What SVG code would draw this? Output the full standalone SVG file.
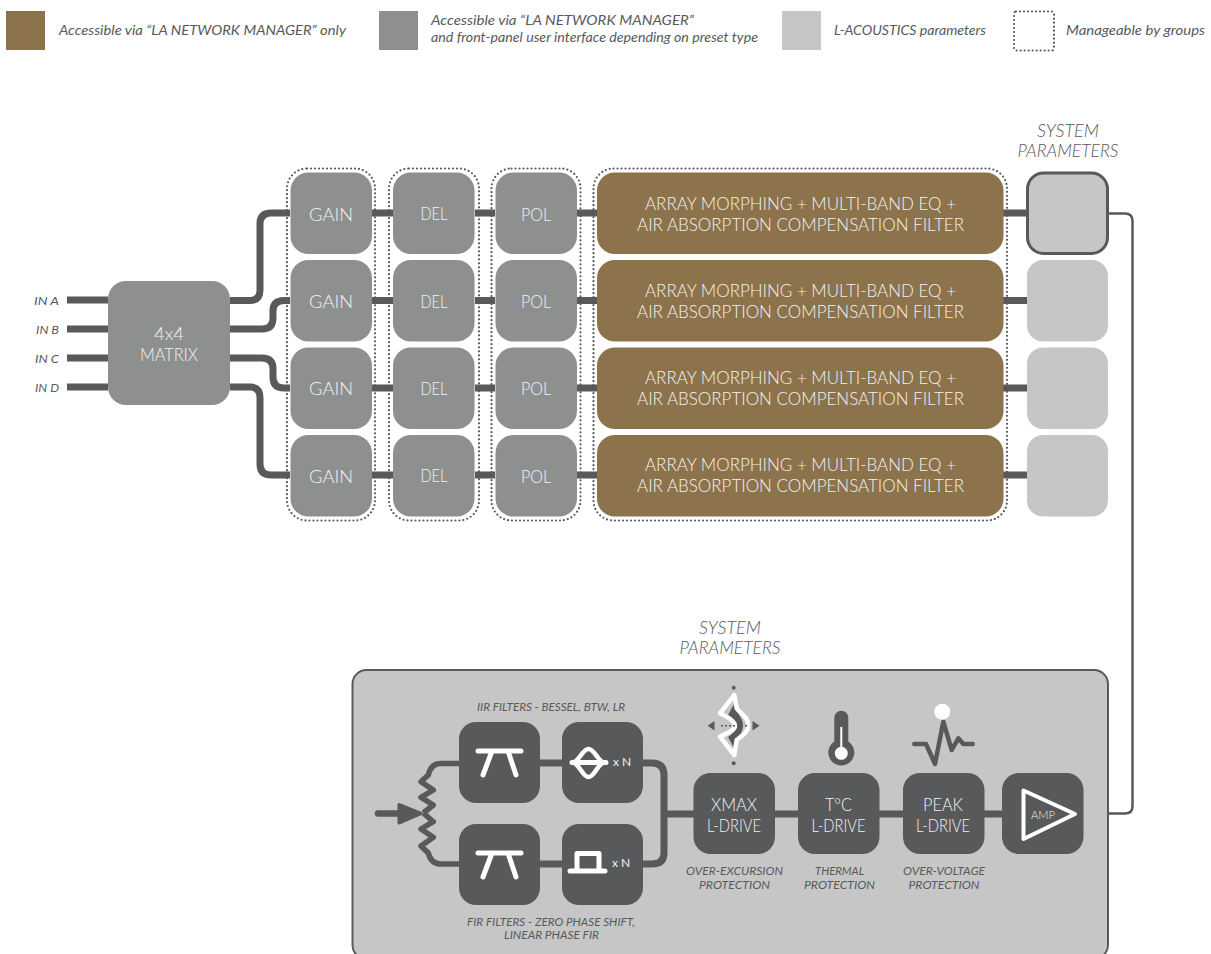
<svg xmlns="http://www.w3.org/2000/svg" width="1211" height="954" viewBox="0 0 1211 954">
<style>
text{font-family:"Lato","Liberation Sans",sans-serif;font-weight:300}
.w{fill:#f2f2f2;font-size:18px;text-anchor:middle}
.i{fill:#58595b;font-style:italic;font-weight:400}
.t{font-weight:300}
.c{text-anchor:middle}
.g{fill:#8e908f}
.b{fill:#8c734b}
.l{fill:#c6c6c6}
.d{fill:#58595b}
.dot{fill:none;stroke:#58595b;stroke-width:2.200;stroke-linecap:round;stroke-dasharray:0 4}
.con{fill:none;stroke:#58595b;stroke-width:7}
.ic{fill:none;stroke:#fff;stroke-width:5;stroke-linecap:round;stroke-linejoin:round}
.n{font-size:12px;font-weight:400;fill:#f2f2f2}
</style>
<rect width="1211" height="954" fill="#fff"/>
<g id="legend">
<rect class="b" x="6" y="11" width="39" height="39"/>
<text class="i" x="59" y="35" font-size="14" textLength="287" lengthAdjust="spacingAndGlyphs">Accessible via “LA NETWORK MANAGER” only</text>
<rect class="g" x="379" y="11" width="39" height="39"/>
<text class="i" x="431" y="25" font-size="14" textLength="263" lengthAdjust="spacingAndGlyphs">Accessible via “LA NETWORK MANAGER”</text>
<text class="i" x="431" y="42" font-size="14" textLength="327" lengthAdjust="spacingAndGlyphs">and front-panel user interface depending on preset type</text>
<rect class="l" x="782" y="11" width="39" height="39"/>
<text class="i" x="834" y="35" font-size="14" textLength="152" lengthAdjust="spacingAndGlyphs">L-ACOUSTICS parameters</text>
<rect class="dot" x="1014" y="11.500" width="40" height="39" rx="2"/>
<text class="i" x="1066" y="35" font-size="14" textLength="139" lengthAdjust="spacingAndGlyphs">Manageable by groups</text>
</g>
<g id="connectors">
<path class="con" d="M67 300H108M67 329H108M67 358H108M67 387H108"/>
<path class="con" d="M230 300.500H250Q260 300.500 260 290V224Q260 213 271 213H290"/>
<path class="con" d="M230 329H262Q273 329 273 318V311Q273 300.500 284 300.500H290"/>
<path class="con" d="M230 358H262Q273 358 273 369V377Q273 388 284 388H290"/>
<path class="con" d="M230 387H250Q260 387 260 398V464Q260 475 271 475H290"/>
<path class="con" d="M372 213H393M475 213H495M577 213H597M1003 213H1027M372 300.500H393M475 300.500H495M577 300.500H597M1003 300.500H1027M372 388H393M475 388H495M577 388H597M1003 388H1027M372 475H393M475 475H495M577 475H597M1003 475H1027"/>
<path fill="none" stroke="#58595b" stroke-width="2.500" d="M1108 213.500H1125Q1132.500 213.500 1132.500 221V806Q1132.500 813.500 1125 813.500H1108"/>
</g>
<g id="groups">
<rect class="dot" x="287" y="168.500" width="88" height="352" rx="20"/>
<rect class="dot" x="389" y="168.500" width="90" height="352" rx="20"/>
<rect class="dot" x="491.500" y="168.500" width="89" height="352" rx="20"/>
<rect class="dot" x="593.500" y="168.500" width="413.500" height="352" rx="20"/>
</g>
<g id="matrix"><rect class="g" x="108" y="281" width="122" height="124" rx="18"/><text class="w" x="169" y="340" font-size="17" style="font-size:17px" textLength="30" lengthAdjust="spacingAndGlyphs">4x4</text><text class="w" x="169" y="360.500" style="font-size:17px" textLength="58" lengthAdjust="spacingAndGlyphs">MATRIX</text></g>
<g id="inputs">
<text class="i" x="34" y="305" font-size="12" textLength="25" lengthAdjust="spacingAndGlyphs">IN A</text>
<text class="i" x="36" y="334" font-size="12" textLength="23" lengthAdjust="spacingAndGlyphs">IN B</text>
<text class="i" x="35" y="363" font-size="12" textLength="24" lengthAdjust="spacingAndGlyphs">IN C</text>
<text class="i" x="35" y="392" font-size="12" textLength="24" lengthAdjust="spacingAndGlyphs">IN D</text>
</g>
<g id="gain1"><rect class="g" x="290.500" y="172.500" width="81.500" height="81.500" rx="18"/><text class="w" x="331" y="220.500" textLength="44" lengthAdjust="spacingAndGlyphs">GAIN</text></g>
<g id="gain2"><rect class="g" x="290.500" y="260" width="81.500" height="81.500" rx="18"/><text class="w" x="331" y="308" textLength="44" lengthAdjust="spacingAndGlyphs">GAIN</text></g>
<g id="gain3"><rect class="g" x="290.500" y="347.500" width="81.500" height="81.500" rx="18"/><text class="w" x="331" y="395" textLength="44" lengthAdjust="spacingAndGlyphs">GAIN</text></g>
<g id="gain4"><rect class="g" x="290.500" y="435" width="81.500" height="81.500" rx="18"/><text class="w" x="331" y="483" textLength="44" lengthAdjust="spacingAndGlyphs">GAIN</text></g>
<g id="del1"><rect class="g" x="393" y="172.500" width="81.500" height="81.500" rx="18"/><text class="w" x="434" y="220" textLength="27" lengthAdjust="spacingAndGlyphs">DEL</text></g>
<g id="del2"><rect class="g" x="393" y="260" width="81.500" height="81.500" rx="18"/><text class="w" x="434" y="307.500" textLength="27" lengthAdjust="spacingAndGlyphs">DEL</text></g>
<g id="del3"><rect class="g" x="393" y="347.500" width="81.500" height="81.500" rx="18"/><text class="w" x="434" y="394.500" textLength="27" lengthAdjust="spacingAndGlyphs">DEL</text></g>
<g id="del4"><rect class="g" x="393" y="435" width="81.500" height="81.500" rx="18"/><text class="w" x="434" y="482" textLength="27" lengthAdjust="spacingAndGlyphs">DEL</text></g>
<g id="pol1"><rect class="g" x="495.500" y="172.500" width="81.500" height="81.500" rx="18"/><text class="w" x="536" y="220.500" textLength="30" lengthAdjust="spacingAndGlyphs">POL</text></g>
<g id="pol2"><rect class="g" x="495.500" y="260" width="81.500" height="81.500" rx="18"/><text class="w" x="536" y="308" textLength="30" lengthAdjust="spacingAndGlyphs">POL</text></g>
<g id="pol3"><rect class="g" x="495.500" y="347.500" width="81.500" height="81.500" rx="18"/><text class="w" x="536" y="395" textLength="30" lengthAdjust="spacingAndGlyphs">POL</text></g>
<g id="pol4"><rect class="g" x="495.500" y="435" width="81.500" height="81.500" rx="18"/><text class="w" x="536" y="483" textLength="30" lengthAdjust="spacingAndGlyphs">POL</text></g>
<g id="eq1"><rect class="b" x="597" y="172.500" width="406.500" height="81.500" rx="18"/><text class="w" x="800.500" y="210" textLength="311" lengthAdjust="spacingAndGlyphs">ARRAY MORPHING + MULTI-BAND EQ +</text><text class="w" x="800.500" y="231" textLength="327" lengthAdjust="spacingAndGlyphs">AIR ABSORPTION COMPENSATION FILTER</text></g>
<g id="eq2"><rect class="b" x="597" y="260" width="406.500" height="81.500" rx="18"/><text class="w" x="800.500" y="297" textLength="311" lengthAdjust="spacingAndGlyphs">ARRAY MORPHING + MULTI-BAND EQ +</text><text class="w" x="800.500" y="318" textLength="327" lengthAdjust="spacingAndGlyphs">AIR ABSORPTION COMPENSATION FILTER</text></g>
<g id="eq3"><rect class="b" x="597" y="347.500" width="406.500" height="81.500" rx="18"/><text class="w" x="800.500" y="384" textLength="311" lengthAdjust="spacingAndGlyphs">ARRAY MORPHING + MULTI-BAND EQ +</text><text class="w" x="800.500" y="405" textLength="327" lengthAdjust="spacingAndGlyphs">AIR ABSORPTION COMPENSATION FILTER</text></g>
<g id="eq4"><rect class="b" x="597" y="435" width="406.500" height="81.500" rx="18"/><text class="w" x="800.500" y="471" textLength="311" lengthAdjust="spacingAndGlyphs">ARRAY MORPHING + MULTI-BAND EQ +</text><text class="w" x="800.500" y="492" textLength="327" lengthAdjust="spacingAndGlyphs">AIR ABSORPTION COMPENSATION FILTER</text></g>
<g id="sys1"><rect class="l" x="1027.500" y="173" width="80" height="80.500" rx="16" stroke="#58595b" stroke-width="3"/></g>
<g id="sys2"><rect class="l" x="1027" y="260" width="81" height="81.500" rx="16"/></g>
<g id="sys3"><rect class="l" x="1027" y="347.500" width="81" height="81.500" rx="16"/></g>
<g id="sys4"><rect class="l" x="1027" y="435" width="81" height="81.500" rx="16"/></g>
<g id="sys-label"><text class="i c t" x="1068" y="136.500" font-size="18" textLength="62" lengthAdjust="spacingAndGlyphs">SYSTEM</text><text class="i c t" x="1068" y="157" font-size="18" textLength="101" lengthAdjust="spacingAndGlyphs">PARAMETERS</text></g>
<g id="panel-label"><text class="i c t" x="730" y="633.500" font-size="18" textLength="62" lengthAdjust="spacingAndGlyphs">SYSTEM</text><text class="i c t" x="730" y="653.500" font-size="18" textLength="101" lengthAdjust="spacingAndGlyphs">PARAMETERS</text></g>
<g id="panel"><rect class="l" x="352.500" y="670" width="755.500" height="289" rx="14" stroke="#58595b" stroke-width="2"/></g>
<g id="panel-connectors">
<path class="con" d="M540 763H562M643 763H652Q664 763 664 775V853Q664 864 652 864H643M540 864H562M664 814H694M775 814H798M879 814H903M984 814H1002"/>
<path class="con" style="stroke-width:5.500" stroke-linejoin="round" d="M423.300 813L433.300 805L421 797.300L433.300 790L421 781.700L428.300 775Q431 763.500 441 763.500H459M423.300 813L433.300 821.700L421 829L433.300 837.300L421 846L428.300 853Q431 864 441 864H459"/>
<path d="M378 813.500H398" stroke="#58595b" stroke-width="6.500" stroke-linecap="round"/>
<path class="d" stroke="#58595b" stroke-width="3" stroke-linejoin="round" d="M399 804.500L421 813.500L399 823Z"/>
</g>
<g id="iir"><text class="i" x="477" y="711" font-size="12" textLength="148" lengthAdjust="spacingAndGlyphs">IIR FILTERS - BESSEL, BTW, LR</text></g>
<g id="iir-slope"><rect class="d" x="459" y="722" width="81" height="81" rx="17"/><path class="ic" d="M478 751H521M492 751L483 775M508 751L516 775"/></g>
<g id="iir-bessel"><rect class="d" x="562" y="722" width="81" height="81" rx="17"/><path class="ic" d="M572 762.500H606"/><path class="ic" style="stroke-width:4.500" d="M574 762.500C581 758 583 749 588.500 749C594 749 596 758 603 762.500C596 767 594 777 588.500 777C583 777 581 767 574 762.500Z"/><text class="n" x="613" y="766">x N</text></g>
<g id="fir-slope"><rect class="d" x="459" y="824" width="81" height="81" rx="17"/><path class="ic" d="M478 853H521M492 853L483 877M508 853L516 877"/></g>
<g id="fir-box"><rect class="d" x="562" y="824" width="81" height="81" rx="17"/><path class="ic" d="M570 871H605M577 871V853.500H599V871"/><text class="n" x="612" y="867">x N</text></g>
<g id="fir"><text class="i" x="467" y="926" font-size="12" textLength="168" lengthAdjust="spacingAndGlyphs">FIR FILTERS - ZERO PHASE SHIFT,</text><text class="i" x="504" y="939" font-size="12" textLength="95" lengthAdjust="spacingAndGlyphs">LINEAR PHASE FIR</text></g>
<g id="xmax"><rect class="d" x="693.500" y="773" width="81.500" height="81" rx="17"/><text class="w" x="734" y="811" textLength="46" lengthAdjust="spacingAndGlyphs">XMAX</text><text class="w" x="734" y="832" textLength="54" lengthAdjust="spacingAndGlyphs">L-DRIVE</text>
<text class="i c" x="734.500" y="875" font-size="12" textLength="97" lengthAdjust="spacingAndGlyphs">OVER-EXCURSION</text><text class="i c" x="734.500" y="889" font-size="12" textLength="71" lengthAdjust="spacingAndGlyphs">PROTECTION</text></g>
<g id="xmax-icon">
<path class="d" d="M734 704L728 715C737 722 739 730 728 737L734 748C738 738 743 732 743 725C743 718 737 714 734 704Z"/>
<path fill="none" stroke="#fff" stroke-width="4.500" stroke-linejoin="round" d="M734.300 695L720 713.300C728 717 735 721 735 726C735 730 728 733 720 736.700L734.300 755L736.700 740C741 736 748.300 733 748.300 725C748.300 717 741 714 736.700 708.300Z"/>
<circle class="d" cx="733.700" cy="687.700" r="2"/><circle class="d" cx="733.700" cy="763.300" r="2"/>
<path d="M721 725.700H747" stroke="#58595b" stroke-width="1.500" stroke-dasharray="2 2"/>
<path class="d" d="M707.700 725.700L714.500 721V730.500ZM759.500 725.700L752.500 721V730.500Z"/>
</g>
<g id="thermal"><rect class="d" x="798" y="773" width="81.500" height="81" rx="17"/><text class="w" x="838.500" y="811" textLength="27" lengthAdjust="spacingAndGlyphs">T°C</text><text class="w" x="838.500" y="832" textLength="54" lengthAdjust="spacingAndGlyphs">L-DRIVE</text>
<text class="i c" x="839.500" y="875" font-size="12" textLength="49" lengthAdjust="spacingAndGlyphs">THERMAL</text><text class="i c" x="839.500" y="889" font-size="12" textLength="71" lengthAdjust="spacingAndGlyphs">PROTECTION</text></g>
<g id="thermo-icon">
<path class="d" d="M834.300 717.700a7 7 0 0 1 14 0V741.500a13 13 0 1 1 -14 0Z"/>
<path d="M841.300 727V750" stroke="#fff" stroke-width="2"/><circle cx="841.300" cy="753.300" r="6.500" fill="#fff"/>
</g>
<g id="peak"><rect class="d" x="903" y="773" width="81.500" height="81" rx="17"/><text class="w" x="943" y="811" textLength="40" lengthAdjust="spacingAndGlyphs">PEAK</text><text class="w" x="943" y="832" textLength="54" lengthAdjust="spacingAndGlyphs">L-DRIVE</text>
<text class="i c" x="944" y="875" font-size="12" textLength="82" lengthAdjust="spacingAndGlyphs">OVER-VOLTAGE</text><text class="i c" x="944" y="889" font-size="12" textLength="71" lengthAdjust="spacingAndGlyphs">PROTECTION</text></g>
<g id="peak-icon">
<path fill="none" stroke="#58595b" stroke-width="4.500" stroke-linecap="round" stroke-linejoin="round" d="M914.300 744H926L935 764L943.300 721.700L951.700 750L958.300 738.300L963.300 744H972.700"/>
<circle cx="942.300" cy="711.700" r="8" fill="#fff"/>
</g>
<g id="amp"><rect class="d" x="1002" y="773" width="81.500" height="81" rx="17"/><path class="ic" style="stroke-width:4" d="M1023.500 790.500L1075 814L1023.500 839Z"/><text x="1043" y="818.500" font-size="11" fill="#f2f2f2" text-anchor="middle" textLength="24" lengthAdjust="spacingAndGlyphs">AMP</text></g>
</svg>
